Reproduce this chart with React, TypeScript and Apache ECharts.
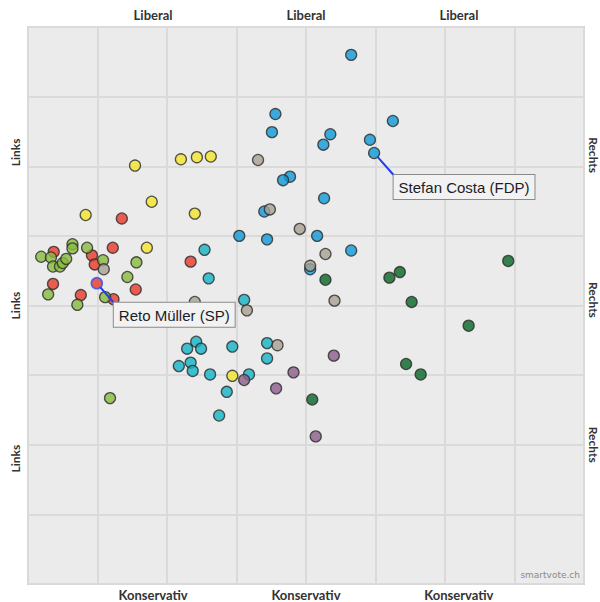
import React, { useEffect, useRef } from 'react';
import * as echarts from 'echarts';

// Party point positions [x (links→rechts), y (konservativ→liberal)] on a 0–8 grid
const sp: [number, number][] = [[1.35,5.25],[1.22,4.83],[0.37,4.77],[0.92,4.72],[0.96,4.59],[0.36,4.31],[0.76,4.15],[1.55,4.23],[1.23,4.09],[2.34,4.63]];
const gruene: [number, number][] = [[0.19,4.70],[0.33,4.69],[0.36,4.56],[0.46,4.56],[0.50,4.61],[0.55,4.67],[0.64,4.88],[0.64,4.82],[0.85,4.83],[1.08,4.65],[1.56,4.62],[1.43,4.41],[0.29,4.16],[0.71,4.01],[1.11,4.12],[1.18,2.67]];
const glp: [number, number][] = [[1.54,6.01],[2.20,6.10],[2.43,6.13],[2.63,6.14],[1.78,5.49],[0.83,5.30],[2.40,5.32],[1.71,4.83],[2.94,2.99]];
const mitte: [number, number][] = [[2.54,4.80],[2.60,4.39],[3.11,4.08],[2.42,3.48],[2.29,3.38],[2.49,3.38],[2.94,3.41],[3.44,3.46],[3.44,3.24],[2.34,3.18],[2.17,3.13],[2.37,3.06],[2.62,3.01],[3.18,3.01],[2.86,2.76],[2.75,2.42]];
const fdp: [number, number][] = [[4.65,7.60],[3.56,6.75],[3.51,6.49],[4.35,6.46],[4.25,6.31],[5.25,6.65],[4.92,6.38],[3.77,5.85],[3.67,5.80],[4.26,5.54],[3.40,5.35],[3.04,5.00],[3.44,4.95],[4.16,5.00],[4.65,4.79],[4.06,4.52]];
const bdp: [number, number][] = [[3.31,6.09],[3.48,5.38],[3.91,5.10],[4.28,4.74],[4.06,4.57],[4.41,4.07],[3.15,3.93],[2.40,4.05],[3.59,3.43],[1.09,4.52]];
const svp: [number, number][] = [[4.28,4.37],[4.09,2.65],[6.91,4.64],[5.35,4.48],[5.20,4.40],[5.52,4.05],[6.34,3.71],[5.44,3.16],[5.65,3.01]];
const evp: [number, number][] = [[4.40,3.28],[3.82,3.04],[3.11,2.93],[3.57,2.81],[4.14,2.12]];

// Annotated candidates
const annotatedNames = ['Reto Müller (SP)', 'Stefan Costa (FDP)'];
const annotatedPoints: [number, number][] = [[0.99,4.32],[4.98,6.19]];
const annotatedParty = ['SP', 'FDP'];

// Edge labels
const topLabels = ['Liberal', 'Liberal', 'Liberal'];
const bottomLabels = ['Konservativ', 'Konservativ', 'Konservativ'];
const leftLabels = ['Links', 'Links', 'Links'];
const rightLabels = ['Rechts', 'Rechts', 'Rechts'];
const labelFractions = [0.225, 0.5, 0.775];
const rightLabelFractions = [0.23, 0.49, 0.75];

const partyColors: Record<string, string> = {
  SP: '#e8392b',
  Gruene: '#88bb3f',
  GLP: '#f4e62a',
  Mitte: '#14b3c5',
  FDP: '#0f99d6',
  BDP: '#a9a192',
  SVP: '#086626',
  EVP: '#8d5e8b',
};

const GL = 28, GT = 27, GW = 556, GH = 557;

export default function App() {
  const ref = useRef<HTMLDivElement>(null);
  useEffect(() => {
    if (!ref.current) return;
    const chart = echarts.init(ref.current, undefined, { renderer: 'svg' });
    const pointStyle = (c: string) => ({ color: c, borderColor: '#2a2a2a', borderWidth: 1.3 });
    const parties: [string, [number, number][]][] = [
      ['SP', sp], ['Gruene', gruene], ['GLP', glp], ['Mitte', mitte],
      ['FDP', fdp], ['BDP', bdp], ['SVP', svp], ['EVP', evp],
    ];
    const series: any[] = parties.map(([name, data]) => ({
      type: 'scatter',
      name,
      data,
      symbolSize: 11,
      itemStyle: pointStyle(partyColors[name]),
      silent: true,
    }));
    // Highlighted candidate points
    series.push({
      type: 'scatter',
      name: 'annotated',
      data: annotatedPoints.map((p, i) => ({
        value: p,
        itemStyle: annotatedParty[i] === 'SP'
          ? { color: partyColors.SP, borderColor: '#2f4ff0', borderWidth: 1.6 }
          : pointStyle(partyColors[annotatedParty[i]]),
      })),
      symbolSize: 11,
      z: 4,
      silent: true,
    });
    // Callout connectors + labels, positioned relative to the data point
    const offsets = [[11.5, 14], [14, 16.5]];
    series.push({
      type: 'custom',
      name: 'callouts',
      z: 6,
      silent: true,
      data: annotatedPoints.map((p, i) => [p[0], p[1], i]),
      renderItem: (params: any, api: any) => {
        const i = api.value(2);
        const [px, py] = api.coord([api.value(0), api.value(1)]);
        const r = 5.5;
        const bx = px + r + offsets[i][0];
        const by = py + r + offsets[i][1];
        const dx = bx - px, dy = by - py;
        const len = Math.sqrt(dx * dx + dy * dy) || 1;
        return {
          type: 'group',
          children: [
            {
              type: 'line',
              shape: { x1: px + (dx / len) * r, y1: py + (dy / len) * r, x2: bx, y2: by },
              style: { stroke: '#1f3cf0', lineWidth: 2 },
            },
            {
              type: 'text',
              x: bx,
              y: by,
              style: {
                text: annotatedNames[i],
                font: '15px "Liberation Sans", Arial, sans-serif',
                fill: '#1c1c28',
                align: 'left',
                verticalAlign: 'top',
                backgroundColor: '#f2f2f2',
                borderColor: '#8a8a8a',
                borderWidth: 1,
                padding: [5, 5, 4, 5],
              },
            },
          ],
        };
      },
    });

    const font = 'bold 13px Lato, "Open Sans", sans-serif';
    const sideFont = 'bold 12px Lato, "Open Sans", sans-serif';
    const graphics: any[] = [];
    labelFractions.forEach((f, i) => {
      graphics.push({ type: 'text', x: GL + GW * f, y: 15, style: { text: topLabels[i], font, fill: '#333', textAlign: 'center', textVerticalAlign: 'middle' } });
      graphics.push({ type: 'text', x: GL + GW * f, y: 595, style: { text: bottomLabels[i], font, fill: '#333', textAlign: 'center', textVerticalAlign: 'middle' } });
      graphics.push({ type: 'text', x: 15, y: GT + GH * f, rotation: Math.PI / 2, style: { text: leftLabels[i], font: sideFont, fill: '#333', textAlign: 'center', textVerticalAlign: 'middle' } });
      graphics.push({ type: 'text', x: 593, y: GT + GH * rightLabelFractions[i], rotation: -Math.PI / 2, style: { text: rightLabels[i], font: sideFont, fill: '#333', textAlign: 'center', textVerticalAlign: 'middle' } });
    });
    graphics.push({ type: 'text', x: 580, y: 575, style: { text: 'smartvote.ch', font: '9px "DejaVu Sans", sans-serif', fill: '#8a8a8a', textAlign: 'right', textVerticalAlign: 'middle' } });

    const axisCommon = {
      type: 'value',
      min: 0,
      max: 8,
      interval: 1,
      axisLabel: { show: false },
      axisTick: { show: false },
      axisLine: { show: false },
      splitLine: { show: true, lineStyle: { color: '#dadada', width: 2 } },
    };
    chart.setOption({
      animation: false,
      backgroundColor: '#ffffff',
      grid: { left: GL, top: GT, width: GW, height: GH, show: true, backgroundColor: '#ebebeb', borderColor: '#d0d0d0', borderWidth: 2 },
      xAxis: axisCommon,
      yAxis: axisCommon,
      series,
      graphic: graphics,
    });
    return () => chart.dispose();
  }, []);
  return <div ref={ref} style={{ position: 'absolute', left: 0, top: 0, width: 600, height: 602 }} />;
}
